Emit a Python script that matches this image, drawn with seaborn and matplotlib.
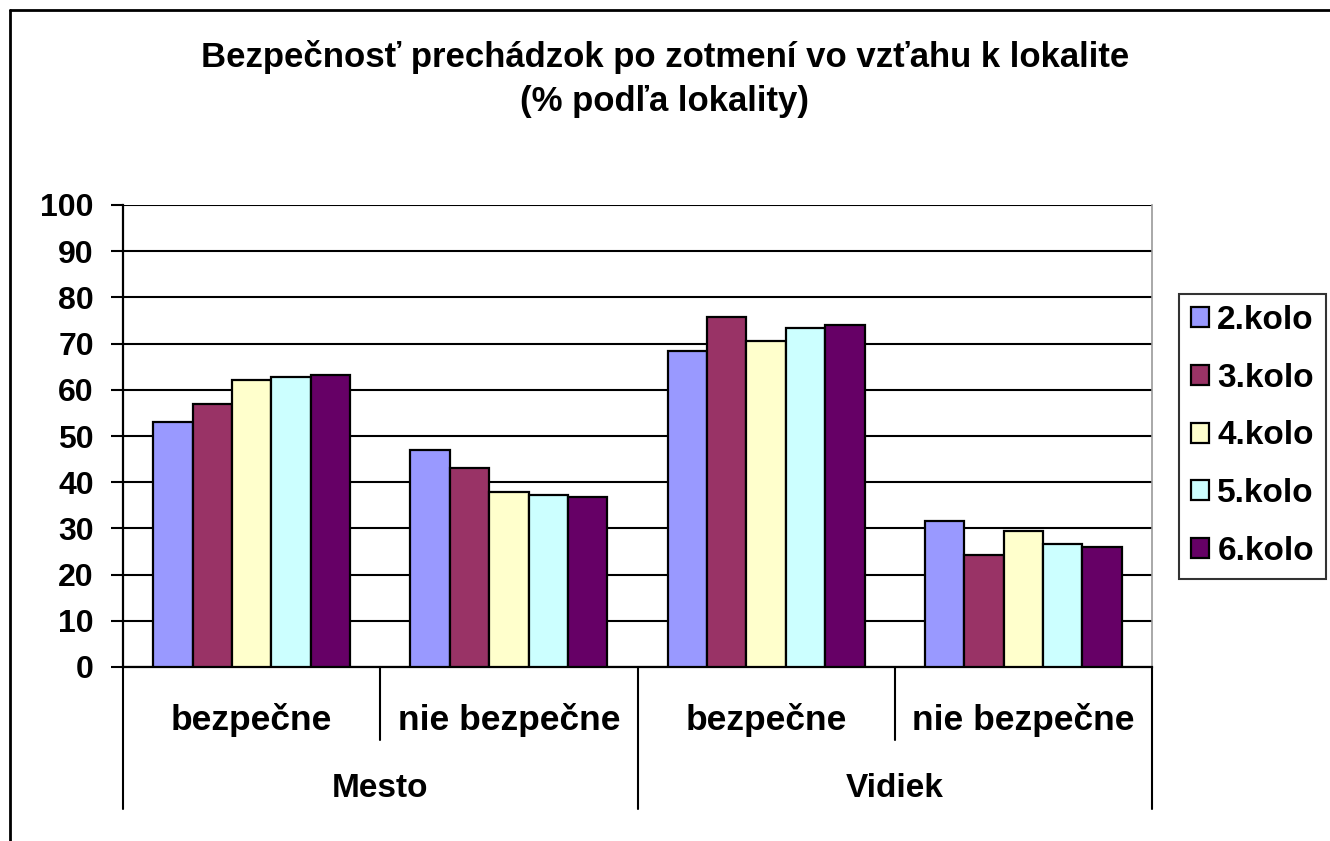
import pandas as pd
import matplotlib.pyplot as plt
import seaborn as sns
from matplotlib.lines import Line2D

sns.set_theme(style="white")
plt.rcParams['font.family'] = ['Liberation Sans', 'DejaVu Sans']
plt.rcParams['font.weight'] = 'bold'
plt.rcParams['text.color'] = 'black'
plt.rcParams['ytick.color'] = 'black'
plt.rcParams['ytick.labelcolor'] = 'black'

lokality = ["Mesto", "Mesto", "Vidiek", "Vidiek"]
odpovede = ["bezpečne", "nie bezpečne", "bezpečne", "nie bezpečne"]
kola = ["2.kolo", "3.kolo", "4.kolo", "5.kolo", "6.kolo"]
kolo2 = [53.0, 47.0, 68.4, 31.6]
kolo3 = [57.0, 43.0, 75.8, 24.2]
kolo4 = [62.1, 37.9, 70.6, 29.4]
kolo5 = [62.7, 37.3, 73.4, 26.6]
kolo6 = [63.2, 36.8, 74.0, 26.0]
farby = ["#9999FF", "#993366", "#FFFFCC", "#CCFFFF", "#660066"]

rows = []
for kolo, vals in zip(kola, [kolo2, kolo3, kolo4, kolo5, kolo6]):
    for i, v in enumerate(vals):
        rows.append({"kat": f"{lokality[i]}|{odpovede[i]}", "kolo": kolo, "pct": v})
df = pd.DataFrame(rows)

fig = plt.figure(figsize=(13.3, 8.41), dpi=100)
ax = fig.add_axes([123 / 1330, 1 - 667 / 841, (1152 - 123) / 1330, (667 - 205) / 841])

sns.barplot(data=df, x="kat", y="pct", hue="kolo", palette=dict(zip(kola, farby)),
            width=0.766, edgecolor="black", linewidth=1.6, saturation=1, ax=ax, zorder=3)

ax.set_ylim(0, 100)
ax.set_xlim(-0.5, 3.5)
ax.set_yticks(range(0, 101, 10))
ax.yaxis.grid(True, color="black", linewidth=1.5, zorder=0)
ax.set_axisbelow(True)
ax.tick_params(axis="y", left=True, length=9, width=1.5, color="black", labelsize=23, pad=12)
ax.set_xticks([])
ax.set_xlabel("")
ax.set_ylabel("")
for s in ["left", "bottom"]:
    ax.spines[s].set_color("black")
    ax.spines[s].set_linewidth(1.6)
ax.spines["top"].set_visible(False)
ax.spines["right"].set_color("#999999")
ax.spines["right"].set_linewidth(1.2)

# viacúrovňová os x
tr = ax.get_xaxis_transform()
for x in [0.5, 2.5]:
    ax.plot([x, x], [0, -0.158], transform=tr, color="black", lw=1.5, clip_on=False)
for x in [-0.5, 1.5, 3.5]:
    ax.plot([x, x], [0, -0.308], transform=tr, color="black", lw=1.5, clip_on=False)
for i, lab in enumerate(odpovede):
    ax.text(i, -0.114, lab, transform=tr, ha="center", va="center", fontsize=25.5, fontweight="bold")
for x, lab in [(0.5, "Mesto"), (2.5, "Vidiek")]:
    ax.text(x, -0.263, lab, transform=tr, ha="center", va="center", fontsize=24, fontweight="bold")

leg = ax.legend(loc="center left", bbox_to_anchor=(1179 / 1330, 1 - 436 / 841),
                bbox_transform=fig.transFigure, frameon=True, fancybox=False,
                fontsize=24, handlelength=0.55, handleheight=0.55, handletextpad=0.25,
                labelspacing=0.8, borderpad=0.35, borderaxespad=0, title=None)
leg.get_frame().set_edgecolor("black")
leg.get_frame().set_linewidth(1.5)
for t in leg.get_texts():
    t.set_fontweight("bold")

fig.text(0.5, 1 - 57 / 841, "Bezpečnosť prechádzok po zotmení vo vzťahu k lokalite",
         ha="center", va="center", fontsize=25, fontweight="bold")
fig.text(0.5, 1 - 101 / 841, "(% podľa lokality)", ha="center", va="center",
         fontsize=25, fontweight="bold")

fig.add_artist(Line2D([10 / 1330, 10 / 1330], [0, 1 - 10 / 841], color="black", lw=2,
                      transform=fig.transFigure))
fig.add_artist(Line2D([10 / 1330, 1], [1 - 10 / 841, 1 - 10 / 841], color="black", lw=2,
                      transform=fig.transFigure))

fig.savefig("out.png", dpi=100, facecolor="white")
